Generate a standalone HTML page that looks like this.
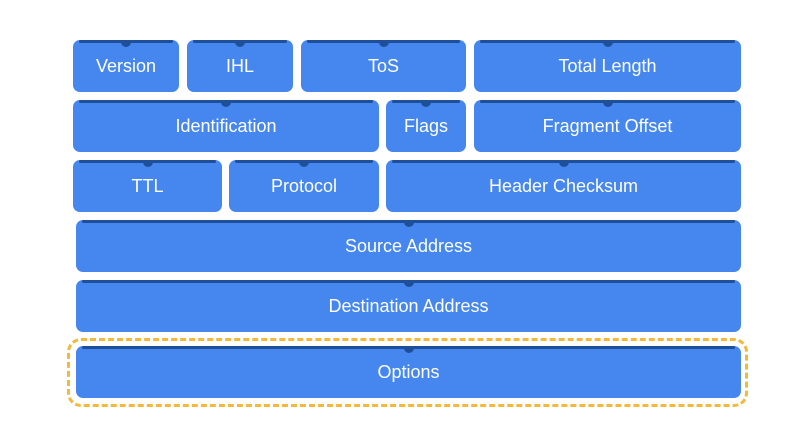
<!DOCTYPE html>
<html><head><meta charset="utf-8"><style>
html,body{margin:0;padding:0;background:#fff;}
body{width:808px;height:430px;position:relative;overflow:hidden;font-family:"Liberation Sans",sans-serif;}
.b{position:absolute;background:#4587ee;border-radius:7px;color:#fff;font-size:18px;display:flex;align-items:center;justify-content:center;box-sizing:border-box;}
.b:before{content:"";position:absolute;left:6px;right:6px;top:0;height:3px;background:#1f4f99;border-radius:2px;}
.b:after{content:"";position:absolute;left:50%;top:2px;margin-left:-5px;width:10px;height:5px;background:#1f4f99;border-radius:0 0 5px 5px;}
.d{position:absolute;left:67px;top:338px;width:681px;height:69px;border:3px dashed #f4b93a;border-radius:14px;box-sizing:border-box;}
</style></head><body>
<div class="b" style="left:73px;top:40px;width:106px;height:52px">Version</div>
<div class="b" style="left:187px;top:40px;width:106px;height:52px">IHL</div>
<div class="b" style="left:301px;top:40px;width:165px;height:52px">ToS</div>
<div class="b" style="left:474px;top:40px;width:267px;height:52px">Total Length</div>
<div class="b" style="left:73px;top:100px;width:306px;height:52px">Identification</div>
<div class="b" style="left:386px;top:100px;width:80px;height:52px">Flags</div>
<div class="b" style="left:474px;top:100px;width:267px;height:52px">Fragment Offset</div>
<div class="b" style="left:73px;top:160px;width:149px;height:52px">TTL</div>
<div class="b" style="left:229px;top:160px;width:150px;height:52px">Protocol</div>
<div class="b" style="left:386px;top:160px;width:355px;height:52px">Header Checksum</div>
<div class="b" style="left:76px;top:220px;width:665px;height:52px">Source Address</div>
<div class="b" style="left:76px;top:280px;width:665px;height:52px">Destination Address</div>
<div class="d"></div>
<div class="b" style="left:76px;top:346px;width:665px;height:52px">Options</div>
</body></html>
